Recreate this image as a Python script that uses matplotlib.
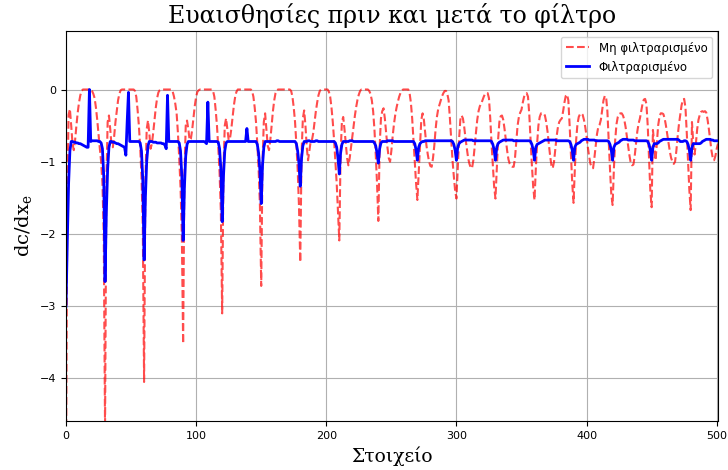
import numpy as np
import matplotlib
matplotlib.use("Agg")
import matplotlib.pyplot as plt

plt.rcParams["mathtext.fontset"] = "dejavuserif"

# ευαισθησίες ανά στοιχείο (ένα μπλοκ των 30 στοιχείων ανά τρεις γραμμές)
ufilt = [
    -5.4, -1.4, -0.35, -0.27, -0.5, -0.75, -0.84, -0.7, -0.5, -0.32,
    -0.18, -0.08, -0.02, 0.0, 0.0, 0.0, 0.0, 0.0, 0.0, 0.0,
    -0.02, -0.06, -0.12, -0.25, -0.42, -0.62, -0.82, -1.0, -1.3, -2.0,
    -4.7, -1.3, -0.45, -0.36, -0.55, -0.78, -0.8, -0.65, -0.45, -0.3,
    -0.15, -0.06, -0.01, 0.0, 0.0, 0.0, 0.0, 0.0, 0.0, 0.0,
    0.0, 0.0, 0.0, -0.02, -0.1, -0.28, -0.5, -0.8, -1.2, -1.9,
    -4.05, -1.3, -0.55, -0.43, -0.6, -0.82, -0.75, -0.6, -0.42, -0.25,
    -0.12, -0.04, -0.01, 0.0, 0.0, 0.0, 0.0, 0.0, 0.0, 0.0,
    0.0, 0.0, -0.03, -0.1, -0.2, -0.33, -0.6, -0.95, -1.35, -2.0,
    -3.52, -1.2, -0.5, -0.43, -0.55, -0.7, -0.68, -0.55, -0.38, -0.22,
    -0.1, -0.03, -0.01, 0.0, 0.0, 0.0, 0.0, 0.0, 0.0, 0.0,
    0.0, 0.0, 0.0, -0.02, -0.1, -0.28, -0.5, -0.8, -1.15, -1.7,
    -3.1, -1.1, -0.5, -0.4, -0.55, -0.7, -0.68, -0.55, -0.38, -0.22,
    -0.1, -0.03, 0.0, 0.0, 0.0, 0.0, 0.0, 0.0, 0.0, 0.0,
    0.0, 0.0, 0.0, -0.02, -0.1, -0.25, -0.45, -0.75, -1.1, -1.6,
    -2.72, -1.0, -0.45, -0.33, -0.55, -0.78, -0.84, -0.7, -0.5, -0.3,
    -0.15, -0.05, -0.01, 0.0, 0.0, 0.0, 0.0, 0.0, 0.0, 0.0,
    0.0, 0.0, 0.0, -0.02, -0.1, -0.25, -0.45, -0.75, -1.1, -1.6,
    -2.39, -0.9, -0.4, -0.29, -0.5, -0.8, -0.98, -0.85, -0.72, -0.7,
    -0.6, -0.45, -0.3, -0.18, -0.08, -0.02, 0.0, 0.0, 0.0, 0.0,
    0.0, 0.0, -0.03, -0.1, -0.25, -0.45, -0.7, -1.0, -1.3, -1.7,
    -2.09, -0.9, -0.45, -0.38, -0.55, -0.75, -0.95, -1.05, -0.95, -0.8,
    -0.65, -0.5, -0.36, -0.24, -0.14, -0.07, -0.02, 0.0, 0.0, 0.0,
    0.0, 0.0, 0.0, -0.02, -0.06, -0.15, -0.3, -0.55, -0.9, -1.3,
    -1.82, -0.8, -0.4, -0.3, -0.26, -0.4, -0.6, -0.8, -0.95, -1.0,
    -0.85, -0.65, -0.48, -0.35, -0.25, -0.17, -0.1, -0.05, -0.02, 0.0,
    0.0, 0.0, 0.0, 0.0, -0.05, -0.18, -0.4, -0.7, -1.0, -1.3,
    -1.53, -1.15, -0.75, -0.42, -0.33, -0.42, -0.6, -0.78, -0.9, -1.0,
    -1.06, -1.07, -0.95, -0.78, -0.55, -0.38, -0.27, -0.21, -0.15, -0.09,
    -0.05, -0.02, -0.02, -0.06, -0.15, -0.4, -0.7, -0.98, -1.2, -1.4,
    -1.51, -1.1, -0.7, -0.42, -0.36, -0.4, -0.52, -0.68, -0.82, -0.95,
    -1.03, -1.08, -1.09, -0.98, -0.8, -0.6, -0.42, -0.3, -0.23, -0.2,
    -0.15, -0.1, -0.06, -0.05, -0.05, -0.12, -0.4, -0.75, -1.05, -1.35,
    -1.51, -1.1, -0.7, -0.45, -0.37, -0.36, -0.42, -0.55, -0.7, -0.85,
    -0.97, -1.03, -1.06, -1.07, -1.07, -0.95, -0.72, -0.5, -0.38, -0.32,
    -0.28, -0.18, -0.1, -0.06, -0.05, -0.1, -0.35, -0.7, -1.05, -1.35,
    -1.53, -1.1, -0.75, -0.5, -0.38, -0.33, -0.33, -0.33, -0.36, -0.45,
    -0.58, -0.75, -0.92, -1.05, -1.09, -1.0, -0.82, -0.65, -0.52, -0.45,
    -0.42, -0.4, -0.3, -0.18, -0.09, -0.07, -0.15, -0.5, -0.9, -1.3,
    -1.57, -1.1, -0.7, -0.48, -0.38, -0.34, -0.33, -0.35, -0.42, -0.52,
    -0.65, -0.8, -0.93, -1.03, -1.08, -1.09, -0.95, -0.78, -0.62, -0.52,
    -0.49, -0.42, -0.28, -0.15, -0.09, -0.1, -0.3, -0.7, -1.1, -1.45,
    -1.6, -1.1, -0.7, -0.48, -0.38, -0.34, -0.33, -0.33, -0.36, -0.42,
    -0.52, -0.65, -0.78, -0.92, -1.02, -1.05, -1.04, -0.92, -0.75, -0.58,
    -0.47, -0.4, -0.3, -0.2, -0.14, -0.13, -0.2, -0.5, -0.95, -1.4,
    -1.63, -0.56, -0.75, -0.98, -0.75, -0.5, -0.38, -0.33, -0.33, -0.34,
    -0.4, -0.5, -0.62, -0.75, -0.86, -0.95, -1.0, -1.03, -1.0, -0.85,
    -0.65, -0.48, -0.35, -0.22, -0.14, -0.13, -0.25, -0.6, -1.0, -1.4,
    -1.67, -0.45, -0.75, -0.9, -0.75, -0.55, -0.42, -0.35, -0.31, -0.3,
    -0.31, -0.3, -0.32, -0.42, -0.55, -0.7, -0.85, -0.95, -0.98, -0.92,
    -0.82, -0.75,
]

filt = [
    -3.0, -2.1, -1.3, -0.85, -0.72, -0.72, -0.73, -0.73, -0.74, -0.74,
    -0.75, -0.75, -0.76, -0.77, -0.78, -0.79, -0.8, -0.8, 0.0, -0.72,
    -0.71, -0.71, -0.71, -0.71, -0.71, -0.72, -0.72, -0.74, -0.82, -1.2,
    -2.66, -1.7, -1.1, -0.8, -0.72, -0.72, -0.73, -0.73, -0.74, -0.75,
    -0.75, -0.76, -0.77, -0.78, -0.79, -0.8, -0.91, -0.45, -0.04, -0.72,
    -0.72, -0.72, -0.72, -0.72, -0.72, -0.72, -0.72, -0.74, -0.85, -1.25,
    -2.36, -1.5, -1.0, -0.78, -0.72, -0.72, -0.72, -0.73, -0.73, -0.73,
    -0.74, -0.74, -0.74, -0.74, -0.75, -0.75, -0.77, -0.82, -0.08, -0.72,
    -0.72, -0.72, -0.72, -0.72, -0.72, -0.72, -0.72, -0.74, -0.85, -1.2,
    -2.09, -1.35, -0.92, -0.76, -0.72, -0.72, -0.72, -0.72, -0.72, -0.72,
    -0.72, -0.72, -0.72, -0.72, -0.72, -0.72, -0.72, -0.73, -0.75, -0.175,
    -0.72, -0.72, -0.72, -0.72, -0.72, -0.72, -0.72, -0.73, -0.82, -1.1,
    -1.83, -1.2, -0.85, -0.74, -0.72, -0.72, -0.72, -0.72, -0.72, -0.72,
    -0.72, -0.72, -0.72, -0.72, -0.72, -0.72, -0.72, -0.72, -0.72, -0.54,
    -0.72, -0.72, -0.72, -0.72, -0.72, -0.72, -0.72, -0.76, -0.88, -1.12,
    -1.58, -1.05, -0.8, -0.72, -0.72, -0.72, -0.72, -0.72, -0.72, -0.72,
    -0.72, -0.72, -0.71, -0.71, -0.72, -0.72, -0.72, -0.72, -0.72, -0.72,
    -0.72, -0.72, -0.72, -0.72, -0.72, -0.72, -0.72, -0.75, -0.85, -1.02,
    -1.34, -0.95, -0.78, -0.72, -0.72, -0.72, -0.71, -0.71, -0.72, -0.72,
    -0.72, -0.72, -0.71, -0.71, -0.72, -0.72, -0.72, -0.72, -0.72, -0.72,
    -0.72, -0.72, -0.72, -0.72, -0.72, -0.72, -0.72, -0.74, -0.8, -0.95,
    -1.17, -0.88, -0.76, -0.72, -0.72, -0.72, -0.72, -0.72, -0.71, -0.71,
    -0.71, -0.72, -0.72, -0.72, -0.72, -0.72, -0.72, -0.72, -0.72, -0.72,
    -0.72, -0.72, -0.72, -0.72, -0.72, -0.72, -0.72, -0.74, -0.78, -0.88,
    -1.02, -0.82, -0.74, -0.72, -0.72, -0.72, -0.72, -0.71, -0.71, -0.71,
    -0.71, -0.71, -0.72, -0.72, -0.72, -0.72, -0.72, -0.72, -0.72, -0.72,
    -0.72, -0.72, -0.72, -0.72, -0.72, -0.72, -0.72, -0.72, -0.75, -0.84,
    -0.98, -0.8, -0.75, -0.73, -0.72, -0.72, -0.71, -0.71, -0.71, -0.71,
    -0.71, -0.71, -0.71, -0.71, -0.71, -0.71, -0.71, -0.71, -0.71, -0.71,
    -0.71, -0.71, -0.71, -0.71, -0.71, -0.71, -0.71, -0.72, -0.76, -0.84,
    -0.98, -0.8, -0.75, -0.73, -0.72, -0.71, -0.7, -0.7, -0.7, -0.7,
    -0.7, -0.7, -0.7, -0.71, -0.71, -0.71, -0.71, -0.71, -0.71, -0.71,
    -0.71, -0.71, -0.71, -0.71, -0.71, -0.71, -0.71, -0.72, -0.76, -0.84,
    -0.98, -0.8, -0.75, -0.73, -0.72, -0.71, -0.7, -0.7, -0.7, -0.7,
    -0.7, -0.7, -0.7, -0.7, -0.71, -0.71, -0.71, -0.71, -0.71, -0.71,
    -0.71, -0.71, -0.71, -0.71, -0.71, -0.71, -0.71, -0.72, -0.76, -0.84,
    -0.98, -0.8, -0.76, -0.75, -0.74, -0.73, -0.72, -0.71, -0.7, -0.7,
    -0.7, -0.7, -0.7, -0.7, -0.7, -0.7, -0.7, -0.71, -0.71, -0.71,
    -0.71, -0.71, -0.71, -0.71, -0.71, -0.71, -0.71, -0.72, -0.76, -0.84,
    -0.98, -0.8, -0.76, -0.75, -0.74, -0.73, -0.71, -0.7, -0.69, -0.69,
    -0.69, -0.69, -0.7, -0.7, -0.7, -0.7, -0.7, -0.71, -0.71, -0.71,
    -0.71, -0.71, -0.71, -0.71, -0.71, -0.71, -0.71, -0.72, -0.76, -0.84,
    -0.98, -0.8, -0.76, -0.75, -0.74, -0.73, -0.71, -0.7, -0.69, -0.69,
    -0.69, -0.69, -0.7, -0.7, -0.7, -0.7, -0.7, -0.71, -0.71, -0.71,
    -0.71, -0.71, -0.71, -0.71, -0.71, -0.71, -0.71, -0.72, -0.76, -0.84,
    -0.98, -0.8, -0.75, -0.75, -0.75, -0.74, -0.72, -0.71, -0.7, -0.69,
    -0.69, -0.69, -0.69, -0.69, -0.69, -0.69, -0.69, -0.69, -0.69, -0.69,
    -0.69, -0.7, -0.72, -0.72, -0.72, -0.71, -0.71, -0.72, -0.76, -0.84,
    -0.98, -0.8, -0.75, -0.75, -0.75, -0.75, -0.75, -0.75, -0.74, -0.72,
    -0.71, -0.7, -0.69, -0.69, -0.69, -0.69, -0.7, -0.7, -0.71, -0.71,
    -0.71, -0.71,
]

stoixeia = np.arange(len(ufilt))

fig = plt.figure(figsize=(7.28, 4.70), dpi=100)
ax = fig.add_axes([66 / 728, 1 - 421 / 470, 652 / 728, 390 / 470])

ax.plot(stoixeia, ufilt, color="red", linestyle="--", linewidth=1.5, alpha=0.7, label="Μη φιλτραρισμένο")
ax.plot(stoixeia, filt, color="blue", linewidth=2, label="Φιλτραρισμένο")

ax.set_xlim(0, 501)
ax.set_ylim(-4.59, 0.81)
ax.set_title("Ευαισθησίες πριν και μετά το φίλτρο", fontsize=17, family="DejaVu Serif")
ax.set_xlabel("Στοιχείο", fontsize=13.5, family="DejaVu Serif")
ax.set_ylabel(r"$\mathrm{dc/dx_e}$", fontsize=14)
ax.tick_params(labelsize=8)
ax.grid(True)
ax.legend(loc="upper right", fontsize=8.5)

fig.savefig("out.png", dpi=100)
